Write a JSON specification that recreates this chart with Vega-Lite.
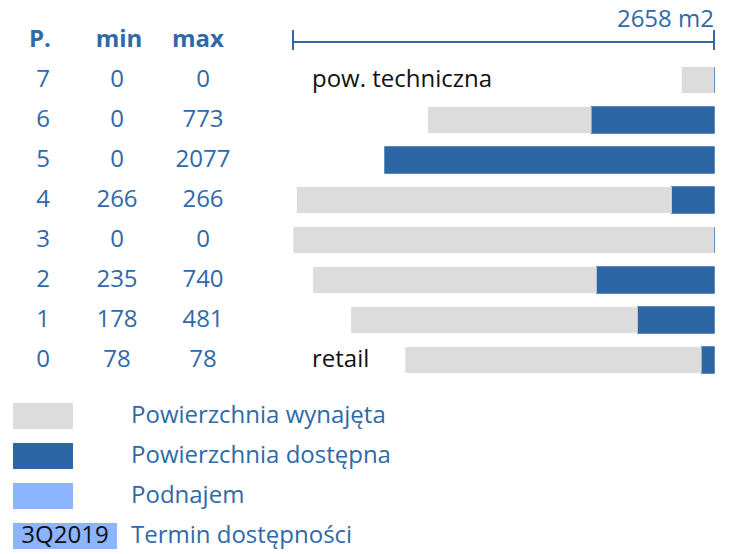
{
  "$schema": "https://vega.github.io/schema/vega-lite/v6.json",
  "padding": {"left": 0, "top": 8, "right": 0, "bottom": 0},
  "background": "white",
  "config": {
    "view": {"stroke": null},
    "axis": {"disable": true},
    "legend": {"disable": true},
    "font": "Open Sans",
    "text": {"font": "Open Sans"}
  },
  "datasets": {
    "pietra": [
      {"floor": "7", "min": 0, "max": 0, "wynajeta": 204, "dostepna": 0, "opis": "pow. techniczna"},
      {"floor": "6", "min": 0, "max": 773, "wynajeta": 1033, "dostepna": 773},
      {"floor": "5", "min": 0, "max": 2077, "wynajeta": 0, "dostepna": 2077},
      {"floor": "4", "min": 266, "max": 266, "wynajeta": 2368, "dostepna": 266},
      {"floor": "3", "min": 0, "max": 0, "wynajeta": 2656, "dostepna": 0},
      {"floor": "2", "min": 235, "max": 740, "wynajeta": 1791, "dostepna": 740},
      {"floor": "1", "min": 178, "max": 481, "wynajeta": 1810, "dostepna": 481},
      {"floor": "0", "min": 78, "max": 78, "wynajeta": 1871, "dostepna": 78, "opis": "retail"}
    ],
    "naglowki": [{"col": "P."}, {"col": "min"}, {"col": "max"}],
    "skala": [{"od": 0, "do": 2658, "etykieta": "2658 m2"}],
    "legenda": [
      {"item": "Powierzchnia wynajęta", "typ": "wynajeta"},
      {"item": "Powierzchnia dostępna", "typ": "dostepna"},
      {"item": "Podnajem", "typ": "podnajem"},
      {"item": "Termin dostępności", "typ": "termin", "tag": "3Q2019"}
    ]
  },
  "spacing": 23,
  "resolve": {"scale": {"x": "independent", "y": "independent", "color": "independent"}},
  "vconcat": [
    {
      "bounds": "flush",
      "spacing": 0,
      "resolve": {"scale": {"x": "independent"}},
      "hconcat": [
        {
          "width": 293,
          "height": 360,
          "layer": [
            {
              "data": {"name": "naglowki"},
              "mark": {"type": "text", "fontWeight": "bold", "fontSize": 24, "color": "#2f69a8", "dx": -3},
              "encoding": {
                "x": {"field": "col", "type": "nominal", "scale": {"type": "point", "domain": ["P.", "min", "max"], "range": [43, 201], "padding": 0}},
                "y": {"datum": "header", "type": "nominal", "scale": {"type": "band", "domain": ["header", "7", "6", "5", "4", "3", "2", "1", "0"], "paddingInner": 0.35, "paddingOuter": 0.175}},
                "text": {"field": "col"}
              }
            },
            {
              "data": {"name": "pietra"},
              "mark": {"type": "text", "fontSize": 24, "color": "#2f69a8"},
              "encoding": {
                "x": {"datum": "P.", "type": "nominal"},
                "y": {"field": "floor", "type": "nominal"},
                "text": {"field": "floor"}
              }
            },
            {
              "data": {"name": "pietra"},
              "mark": {"type": "text", "fontSize": 24, "color": "#2f69a8", "dx": -5},
              "encoding": {
                "x": {"datum": "min", "type": "nominal"},
                "y": {"field": "floor", "type": "nominal"},
                "text": {"field": "min", "type": "quantitative", "format": "d"}
              }
            },
            {
              "data": {"name": "pietra"},
              "mark": {"type": "text", "fontSize": 24, "color": "#2f69a8", "dx": 2},
              "encoding": {
                "x": {"datum": "max", "type": "nominal"},
                "y": {"field": "floor", "type": "nominal"},
                "text": {"field": "max", "type": "quantitative", "format": "d"}
              }
            }
          ]
        },
        {
          "width": 421,
          "height": 360,
          "layer": [
            {
              "data": {"name": "pietra"},
              "transform": [{"fold": ["dostepna", "wynajeta"], "as": ["typ", "pow"]}],
              "mark": {"type": "bar", "stroke": "#2c66a4"},
              "encoding": {
                "y": {"field": "floor", "type": "nominal", "scale": {"type": "band", "domain": ["header", "7", "6", "5", "4", "3", "2", "1", "0"], "paddingInner": 0.35, "paddingOuter": 0.175}},
                "x": {"field": "pow", "type": "quantitative", "stack": "zero", "scale": {"domain": [0, 2658], "reverse": true, "nice": false}},
                "color": {"field": "typ", "type": "nominal", "scale": {"domain": ["wynajeta", "dostepna", "podnajem"], "range": ["#dcdcdc", "#2c66a4", "#8cb4ff"]}},
                "strokeWidth": {"condition": {"test": "datum.typ === 'dostepna'", "value": 1.5}, "value": 0},
                "order": {"field": "typ", "sort": "ascending"}
              }
            },
            {
              "data": {"name": "skala"},
              "mark": {"type": "rule", "color": "#2f69a8", "strokeWidth": 2},
              "encoding": {
                "x": {"field": "od", "type": "quantitative"},
                "x2": {"field": "do"},
                "y": {"datum": "header", "type": "nominal", "bandPosition": 0.58}
              }
            },
            {
              "data": {"name": "skala"},
              "transform": [{"fold": ["od", "do"], "as": ["koniec", "wartosc"]}],
              "mark": {"type": "tick", "color": "#2f69a8", "thickness": 2, "size": 20, "orient": "vertical", "opacity": 1},
              "encoding": {
                "x": {"field": "wartosc", "type": "quantitative"},
                "y": {"datum": "header", "type": "nominal", "bandPosition": 0.58}
              }
            },
            {
              "data": {"name": "skala"},
              "mark": {"type": "text", "align": "right", "fontSize": 24, "color": "#2f69a8", "dy": -20},
              "encoding": {
                "x": {"field": "od", "type": "quantitative"},
                "y": {"datum": "header", "type": "nominal"},
                "text": {"field": "etykieta"}
              }
            },
            {
              "data": {"name": "pietra"},
              "transform": [{"filter": "datum.opis"}],
              "mark": {"type": "text", "align": "left", "fontSize": 24, "color": "#111111", "dx": 19},
              "encoding": {
                "x": {"datum": 2658, "type": "quantitative"},
                "y": {"field": "floor", "type": "nominal"},
                "text": {"field": "opis"}
              }
            }
          ]
        }
      ]
    },
    {
      "data": {"name": "legenda"},
      "width": 714,
      "height": 146,
      "encoding": {
        "y": {"field": "item", "type": "nominal", "sort": null, "scale": {"type": "band", "domain": ["Powierzchnia wynajęta", "Powierzchnia dostępna", "Podnajem", "Termin dostępności"], "paddingInner": 0.35, "paddingOuter": 0}}
      },
      "layer": [
        {
          "transform": [{"filter": "datum.typ !== 'termin'"}],
          "mark": {"type": "point", "shape": "M-1,-0.4333H1V0.4333H-1Z", "size": 3600, "filled": true, "opacity": 1},
          "encoding": {
            "x": {"datum": "swatch", "type": "nominal", "scale": {"type": "point", "domain": ["swatch", "label"], "range": [43, 131], "padding": 0}},
            "color": {"field": "typ", "type": "nominal", "scale": {"domain": ["wynajeta", "dostepna", "podnajem"], "range": ["#dcdcdc", "#2c66a4", "#8cb4ff"]}}
          }
        },
        {
          "transform": [{"filter": "datum.typ === 'termin'"}],
          "mark": {"type": "point", "shape": "M-1,-0.4333H2.4667V0.4333H-1Z", "size": 3600, "filled": true, "opacity": 1, "color": "#8cb4ff"},
          "encoding": {
            "x": {"datum": "swatch", "type": "nominal"}
          }
        },
        {
          "transform": [{"filter": "datum.tag"}],
          "mark": {"type": "text", "fontSize": 24, "color": "#111111", "dx": 22},
          "encoding": {
            "x": {"datum": "swatch", "type": "nominal"},
            "text": {"field": "tag"}
          }
        },
        {
          "mark": {"type": "text", "align": "left", "fontSize": 24, "color": "#2f69a8"},
          "encoding": {
            "x": {"datum": "label", "type": "nominal"},
            "text": {"field": "item"}
          }
        }
      ]
    }
  ]
}
